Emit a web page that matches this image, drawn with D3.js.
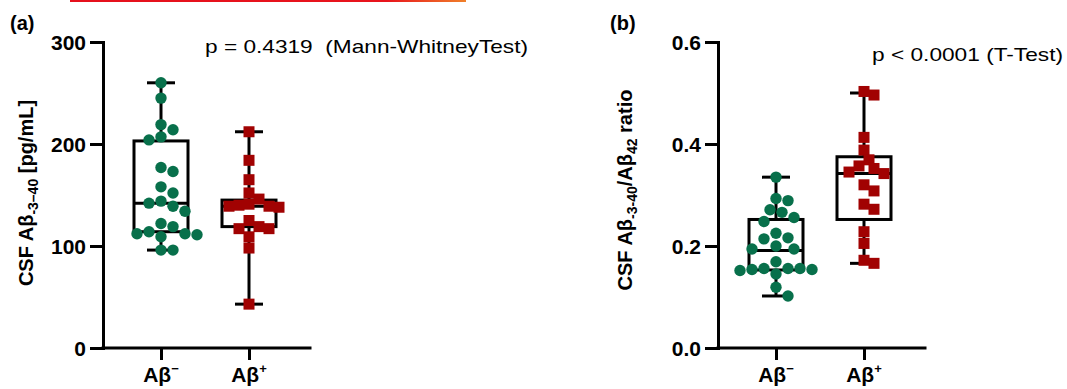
<!DOCTYPE html>
<html>
<head>
<meta charset="utf-8">
<script src="https://cdn.jsdelivr.net/npm/d3@7"></script>
<style>
body{margin:0;background:#fff;}
text{font-family:"Liberation Sans", Arial, sans-serif;fill:#000;}
</style>
</head>
<body>
<div id="main"></div>
<script>
// values
var groupKeys = ["neg", "pos"];
var groupSup = ["\u2212", "+"];

// panel (a): CSF Abeta-3-40 pg/mL
var aNeg = [260, 245, 219, 214, 207, 204, 177, 173, 158, 152, 144, 142, 139, 134, 122, 119, 114, 112, 112, 111, 109, 96, 96];
var aPos = [212, 184, 165, 152, 146, 141, 140, 139, 139, 138, 125, 119, 117, 117, 109, 98, 43];
var aNegBox = [96, 114, 142, 203, 260];   // min, q1, median, q3, max
var aPosBox = [43, 119, 139, 145, 212];
var aTicks = [0, 100, 200, 300];

// panel (b): ratio
var bNeg = [0.335, 0.293, 0.289, 0.271, 0.266, 0.256, 0.248, 0.225, 0.216, 0.214, 0.200, 0.194, 0.194, 0.169, 0.156, 0.156, 0.156, 0.154, 0.154, 0.152, 0.145, 0.119, 0.102];
var bPos = [0.503, 0.496, 0.413, 0.388, 0.369, 0.357, 0.352, 0.345, 0.342, 0.320, 0.308, 0.282, 0.272, 0.228, 0.205, 0.172, 0.166];
var bNegBox = [0.102, 0.153, 0.191, 0.252, 0.335];
var bPosBox = [0.166, 0.252, 0.342, 0.375, 0.500];
var bTicks = [0, 0.2, 0.4, 0.6];

var green = "#08704b";
var red = "#a10202";

var svg = d3.select('#main')
  .append('svg')
  .attr("width", 1067)
  .attr("height", 389);

// red highlight strip at the very top (cropped from the source page)
var grad = svg.append('defs').append('linearGradient').attr('id', 'topline');
grad.append('stop').attr('offset', '0%').attr('stop-color', '#e5101c');
grad.append('stop').attr('offset', '80%').attr('stop-color', '#e8141c');
grad.append('stop').attr('offset', '100%').attr('stop-color', '#f0802a');
svg.append('rect')
  .attr('x', 70).attr('y', 0)
  .attr('width', 396).attr('height', 2)
  .attr('fill', 'url(#topline)');

function swarm(values, y, cx, minDist) {
  var placed = [];
  values.slice().sort((a, b) => b - a).forEach(v => {
    var py = y(v);
    for (var k = 0; k < 40; k++) {
      var off = (k % 2 ? 1 : -1) * Math.ceil(k / 2) * minDist / 2;
      var ok = placed.every(p => (p.x - cx - off) * (p.x - cx - off) + (p.y - py) * (p.y - py) >= minDist * minDist);
      if (ok) { placed.push({x: cx + off, y: py, v: v}); break; }
    }
  });
  return placed;
}

function panel(opt) {
  var g = svg.append('g');
  var x0 = opt.x0;

  var y = d3.scaleLinear().domain([opt.ticks[0], opt.ticks[opt.ticks.length - 1]]).range([348, 42]);
  var x = d3.scalePoint().domain(groupKeys).range([x0 + 58, x0 + 146]);

  // y axis
  var yAxis = g.append('g')
    .attr('transform', 'translate(' + x0 + ',0)')
    .call(d3.axisLeft(y).tickValues(opt.ticks).tickFormat(opt.fmt).tickSize(13).tickPadding(4).tickSizeOuter(0));
  yAxis.select('.domain').attr('stroke-width', 3).attr('stroke-linecap', 'square');
  yAxis.selectAll('.tick line').attr('stroke-width', 3);
  yAxis.selectAll('.tick text')
    .style('font-size', '21px')
    .style('font-weight', 'bold')
    .attr('dy', '0.36em');

  // x axis
  g.append('line')
    .attr('x1', x0).attr('x2', x0 + 207)
    .attr('y1', 348).attr('y2', 348)
    .attr('stroke', '#000').attr('stroke-width', 3)
    .attr('stroke-linecap', 'square');
  var xAxis = g.append('g')
    .attr('transform', 'translate(0,348)')
    .call(d3.axisBottom(x).tickSize(12).tickFormat(''));
  xAxis.select('.domain').remove();
  xAxis.selectAll('.tick line').attr('stroke-width', 3);

  groupKeys.forEach((k, i) => {
    var t = g.append('text')
      .attr('x', x(k)).attr('y', 382)
      .attr('text-anchor', 'middle')
      .style('font-size', '21px')
      .style('font-weight', 'bold');
    t.append('tspan').text('A\u03b2');
    t.append('tspan').attr('dy', -9).style('font-size', '13px').text(groupSup[i]);
  });

  // boxes
  var boxes = [opt.negBox, opt.posBox];
  groupKeys.forEach((k, i) => {
    var s = boxes[i], cx = x(k);
    var bg = g.append('g').attr('stroke', '#000').attr('stroke-width', 3).attr('fill', 'none');
    bg.append('line').attr('x1', cx).attr('x2', cx).attr('y1', y(s[4])).attr('y2', y(s[3]));
    bg.append('line').attr('x1', cx).attr('x2', cx).attr('y1', y(s[1])).attr('y2', y(s[0]));
    bg.append('line').attr('x1', cx - 14).attr('x2', cx + 14).attr('y1', y(s[4])).attr('y2', y(s[4]));
    bg.append('line').attr('x1', cx - 14).attr('x2', cx + 14).attr('y1', y(s[0])).attr('y2', y(s[0]));
    bg.append('rect')
      .attr('x', cx - 27).attr('width', 54)
      .attr('y', y(s[3])).attr('height', y(s[1]) - y(s[3]));
    bg.append('line').attr('x1', cx - 27).attr('x2', cx + 27).attr('y1', y(s[2])).attr('y2', y(s[2]));
  });

  // points
  var negPts = swarm(opt.neg, y, x('neg'), 12);
  var posPts = swarm(opt.pos, y, x('pos'), 10);

  g.selectAll('circle.pt')
    .data(negPts)
    .enter()
    .append('circle')
    .attr('class', 'pt')
    .attr('cx', d => d.x)
    .attr('cy', d => d.y)
    .attr('r', 5.7)
    .attr('fill', green);

  g.selectAll('rect.pt')
    .data(posPts)
    .enter()
    .append('rect')
    .attr('class', 'pt')
    .attr('x', d => d.x - 5.5)
    .attr('y', d => d.y - 5.5)
    .attr('width', 11)
    .attr('height', 11)
    .attr('fill', red);

  // panel letter
  svg.append('text')
    .attr('x', opt.letterX).attr('y', 30)
    .style('font-size', '20px').style('font-weight', 'bold')
    .text(opt.letter);

  // p value
  svg.append('text')
    .attr('x', opt.pX).attr('y', opt.pY)
    .attr('textLength', opt.pLen)
    .attr('lengthAdjust', 'spacingAndGlyphs')
    .style('font-size', '19px')
    .style('white-space', 'pre')
    .text(opt.pText);

  // y title
  var yt = svg.append('text')
    .attr('transform', 'translate(' + opt.titleX + ',' + opt.titleY + ')rotate(-90)')
    .attr('text-anchor', 'middle')
    .style('font-size', '20px')
    .style('font-weight', 'bold');
  opt.title.forEach(p => {
    var ts = yt.append('tspan').text(p[0]);
    if (p[1] == 'sub') ts.attr('dy', 5).style('font-size', '14px');
    if (p[1] == 'back') ts.attr('dy', -5);
  });
}

panel({
  x0: 103, ticks: aTicks, fmt: d3.format('d'),
  neg: aNeg, pos: aPos, negBox: aNegBox, posBox: aPosBox,
  letter: '(a)', letterX: 10,
  pText: 'p = 0.4319\u00a0\u00a0(Mann-WhitneyTest)', pX: 205, pY: 53, pLen: 323,
  titleX: 33, titleY: 193,
  title: [['CSF A\u03b2'], ['-3\u201340', 'sub'], [' [pg/mL]', 'back']]
});

panel({
  x0: 718, ticks: bTicks, fmt: d3.format('.1f'),
  neg: bNeg, pos: bPos, negBox: bNegBox, posBox: bPosBox,
  letter: '(b)', letterX: 610,
  pText: 'p < 0.0001 (T-Test)', pX: 872, pY: 61, pLen: 191,
  titleX: 632, titleY: 190,
  title: [['CSF A\u03b2'], ['-3-40', 'sub'], ['/A\u03b2', 'back'], ['42', 'sub'], [' ratio', 'back']]
});
</script>
</body>
</html>
